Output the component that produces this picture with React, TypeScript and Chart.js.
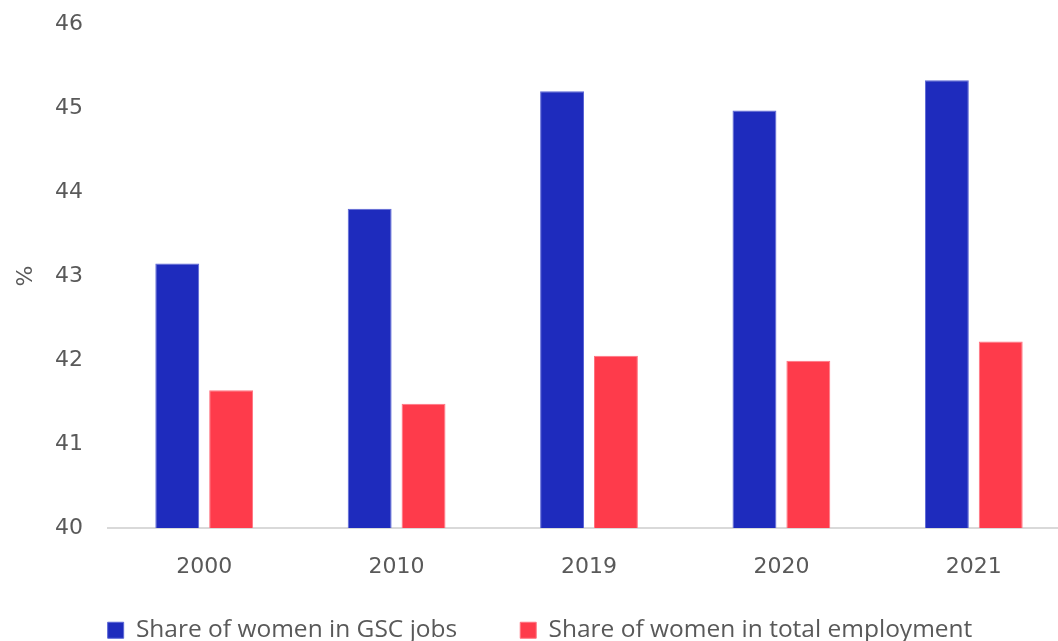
import React, { useEffect, useRef } from "react";
import { Chart, registerables } from "chart.js";

Chart.register(...registerables);

const categories = ["2000", "2010", "2019", "2020", "2021"];
const gscShare = [43.15, 43.8, 45.2, 44.97, 45.33];
const totalShare = [41.64, 41.48, 42.05, 41.99, 42.22];
const yTicks = [40, 41, 42, 43, 44, 45, 46];

const TICK_FONT = { family: "DejaVu Sans", size: 22 };

// The legend's label padding sets both the gap between items and the offset
// from the legend's top; pull the legend up by that padding so the items sit
// just below the axis labels.
const legendLift = {
  id: "legendLift",
  beforeDraw(chart: any) {
    const lg = chart.legend;
    if (lg) {
      const p = lg.options.labels.padding;
      lg.top = lg.top - p;
    }
  },
};

export default function App() {
  const ref = useRef<HTMLCanvasElement | null>(null);
  useEffect(() => {
    if (!ref.current) return;
    const chart = new Chart(ref.current, {
      type: "bar",
      data: {
        labels: categories,
        datasets: [
          {
            label: "Share of women in GSC jobs",
            data: gscShare,
            backgroundColor: "#1e2bbd",
            borderColor: "#5b66d6",
            borderWidth: 1,
            categoryPercentage: 0.56,
            barPercentage: 0.815,
          },
          {
            label: "Share of women in total employment",
            data: totalShare,
            backgroundColor: "#fe3b4b",
            borderColor: "#ff7380",
            borderWidth: 1,
            categoryPercentage: 0.56,
            barPercentage: 0.815,
          },
        ],
      },
      plugins: [legendLift],
      options: {
        animation: false,
        responsive: false,
        devicePixelRatio: 1,
        layout: { padding: { top: 24, left: 10, right: 5, bottom: 0 } },
        plugins: {
          tooltip: { enabled: false },
          legend: {
            position: "bottom",
            align: "center",
            maxHeight: 23,
            labels: {
              boxWidth: 16,
              boxHeight: 16,
              padding: 63,
              color: "#595959",
              font: { family: "Open Sans", size: 24.5 },
            },
          },
        },
        scales: {
          x: {
            grid: { display: false, drawTicks: false },
            border: { display: true, color: "#d9d9d9", width: 2 },
            ticks: {
              color: "#595959",
              font: TICK_FONT,
              padding: 26,
            },
            afterFit: (s: any) => {
              s.height = 90;
            },
          },
          y: {
            min: 40,
            max: 46,
            afterBuildTicks: (s: any) => {
              s.ticks = yTicks.map((v) => ({ value: v }));
            },
            grid: { display: false, drawTicks: true, tickLength: 22 },
            border: { display: false },
            ticks: {
              color: "#595959",
              font: TICK_FONT,
              padding: 3,
            },
            title: {
              display: true,
              text: "%",
              color: "#595959",
              font: TICK_FONT,
              padding: { top: 3, bottom: 0 },
            },
            afterFit: (s: any) => {
              s.width = 98;
            },
          },
        },
      },
    });
    return () => chart.destroy();
  }, []);
  return (
    <div
      style={{
        position: "fixed",
        left: 0,
        top: 0,
        width: 1058,
        height: 641,
        overflow: "hidden",
        background: "#fff",
      }}
    >
      <canvas ref={ref} width={1075} height={641} style={{ width: 1075, height: 641 }} />
    </div>
  );
}
